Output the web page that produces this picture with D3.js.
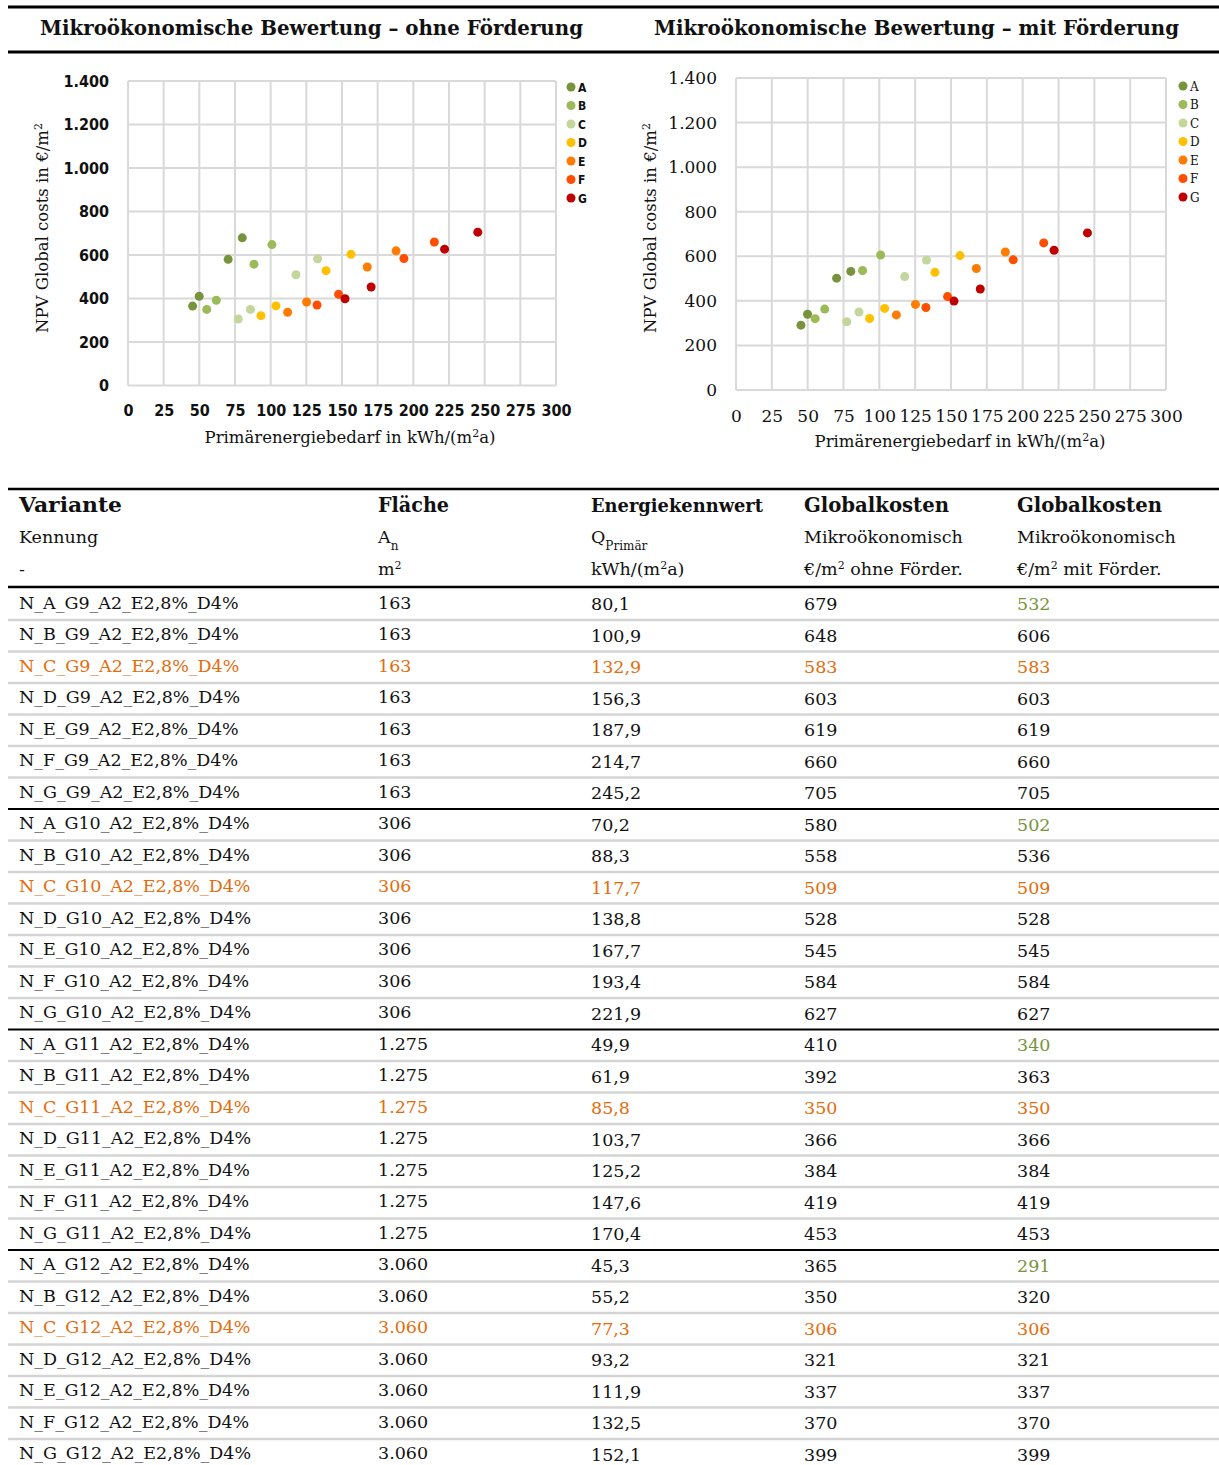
<!DOCTYPE html>
<html>
<head>
	<meta charset="utf-8">
	<title>Mikroökonomische Bewertung</title>
	<script src="https://d3js.org/d3.v7.min.js"></script>
	<style>
		body { margin: 0; background: #fff; }
		text { font-family: "DejaVu Serif", serif; fill: #111; }
	</style>
</head>
<body>
	<div id="page"></div>

	<script type="text/javascript">

		// data
		var variants = ["A", "B", "C", "D", "E", "F", "G"];
		var groups = ["G9", "G10", "G11", "G12"];
		var flaeche = [163, 306, 1275, 3060];
		var energie = [
			[80.1, 100.9, 132.9, 156.3, 187.9, 214.7, 245.2],
			[70.2, 88.3, 117.7, 138.8, 167.7, 193.4, 221.9],
			[49.9, 61.9, 85.8, 103.7, 125.2, 147.6, 170.4],
			[45.3, 55.2, 77.3, 93.2, 111.9, 132.5, 152.1]
		];
		var kostenOhne = [
			[679, 648, 583, 603, 619, 660, 705],
			[580, 558, 509, 528, 545, 584, 627],
			[410, 392, 350, 366, 384, 419, 453],
			[365, 350, 306, 321, 337, 370, 399]
		];
		var kostenMit = [
			[532, 606, 583, 603, 619, 660, 705],
			[502, 536, 509, 528, 545, 584, 627],
			[340, 363, 350, 366, 384, 419, 453],
			[291, 320, 306, 321, 337, 370, 399]
		];
		var seriesColors = ["#77933c", "#9bbb59", "#c3d69b", "#ffc000", "#ff7c00", "#ff4e00", "#c00000"];
		var xTicks = [0, 25, 50, 75, 100, 125, 150, 175, 200, 225, 250, 275, 300];
		var yTicks = [0, 200, 400, 600, 800, 1000, 1200, 1400];

		var de = d3.formatLocale({decimal: ",", thousands: ".", grouping: [3], currency: ["", " €"]});
		var fmtInt = de.format(",d");
		var fmtDec = de.format(",.1f");

		var W = 1219, H = 1465;
		var svg = d3.select("#page").append("svg")
			.attr("width", W)
			.attr("height", H);

//<------------------------------------TITLES------------------------------------------->
		svg.append("line").attr("x1", 8).attr("x2", W).attr("y1", 7).attr("y2", 7)
			.style("stroke", "#000").style("stroke-width", 3);
		svg.append("line").attr("x1", 8).attr("x2", W).attr("y1", 52).attr("y2", 52)
			.style("stroke", "#000").style("stroke-width", 3);

		svg.append("text")
			.attr("x", 40).attr("y", 35)
			.attr("textLength", 543).attr("lengthAdjust", "spacingAndGlyphs")
			.style("font-size", "21px").style("font-weight", "bold")
			.text("Mikroökonomische Bewertung – ohne Förderung");
		svg.append("text")
			.attr("x", 654).attr("y", 35)
			.attr("textLength", 525).attr("lengthAdjust", "spacingAndGlyphs")
			.style("font-size", "21px").style("font-weight", "bold")
			.text("Mikroökonomische Bewertung – mit Förderung");

//<------------------------------------SCATTER CHARTS----------------------------------->
		function drawChart(cfg, yValues) {
			var g = svg.append("g");
			var xScale = d3.scaleLinear().domain([0, 300]).range([cfg.x0, cfg.x1]);
			var yScale = d3.scaleLinear().domain([0, 1400]).range([cfg.y0, cfg.y1]);

			// grid
			g.selectAll(".vgrid").data(xTicks).enter().append("line")
				.attr("x1", function(d) { return xScale(d); })
				.attr("x2", function(d) { return xScale(d); })
				.attr("y1", yScale(0)).attr("y2", yScale(1400))
				.style("stroke", "#d9d9d9").style("stroke-width", 2);
			g.selectAll(".hgrid").data(yTicks).enter().append("line")
				.attr("x1", xScale(0)).attr("x2", xScale(300))
				.attr("y1", function(d) { return yScale(d); })
				.attr("y2", function(d) { return yScale(d); })
				.style("stroke", "#d9d9d9").style("stroke-width", 2);

			// axes, only the labels are kept
			var xAxis = g.append("g")
				.attr("transform", "translate(0," + (yScale(0) + cfg.xLabGap) + ")")
				.call(d3.axisBottom(xScale).tickValues(xTicks).tickSize(0).tickPadding(0));
			var yAxis = g.append("g")
				.attr("transform", "translate(" + (xScale(0) - cfg.yLabGap) + ",0)")
				.call(d3.axisLeft(yScale).tickValues(yTicks).tickSize(0).tickPadding(0).tickFormat(fmtInt));
			[xAxis, yAxis].forEach(function(a) {
				a.select(".domain").remove();
				a.selectAll("text")
					.style("font-family", cfg.tickFont)
					.style("font-size", cfg.tickSize)
					.style("font-weight", cfg.tickWeight)
					.style("fill", "#111");
			});
			xAxis.selectAll("text").attr("dy", "0.35em").attr("y", 0);

			// axis titles
			var xt = g.append("text")
				.attr("x", cfg.xTitleX).attr("y", cfg.xTitleY)
				.attr("text-anchor", "middle")
				.style("font-size", cfg.titleSize);
			xt.append("tspan").text("Primärenergiebedarf  in kWh/(m");
			xt.append("tspan").attr("baseline-shift", "super").style("font-size", "11px").text("2");
			xt.append("tspan").text("a)");

			var yt = g.append("text")
				.attr("transform", "translate(" + cfg.yTitleX + "," + cfg.yTitleY + ") rotate(-90)")
				.attr("text-anchor", "middle")
				.style("font-size", cfg.titleSize);
			yt.append("tspan").text("NPV Global costs in €/m");
			yt.append("tspan").attr("baseline-shift", "super").style("font-size", "11px").text("2");

			// points
			var pts = [];
			variants.forEach(function(v, vi) {
				groups.forEach(function(gr, gi) {
					pts.push({v: vi, x: energie[gi][vi], y: yValues[gi][vi]});
				});
			});
			g.selectAll(".pt").data(pts).enter().append("circle")
				.attr("cx", function(d) { return xScale(d.x); })
				.attr("cy", function(d) { return yScale(d.y); })
				.attr("r", 4.5)
				.style("fill", function(d) { return seriesColors[d.v]; });

			// legend
			var leg = g.selectAll(".leg").data(variants).enter().append("g")
				.attr("transform", function(d, i) { return "translate(" + cfg.legX + "," + (cfg.legY + i * 18.5) + ")"; });
			leg.append("circle").attr("r", 4.5)
				.style("fill", function(d, i) { return seriesColors[i]; });
			leg.append("text").attr("x", 7).attr("dy", "0.38em")
				.style("font-family", cfg.tickFont)
				.style("font-size", "12px")
				.style("font-weight", cfg.tickWeight)
				.text(function(d) { return d; });
		}

		drawChart({
			x0: 128, x1: 556, y0: 385.5, y1: 81,
			xLabGap: 25, yLabGap: 19,
			tickFont: "DejaVu Sans Condensed", tickSize: "16px", tickWeight: "bold",
			titleSize: "16.5px",
			xTitleX: 350, xTitleY: 443, yTitleX: 48, yTitleY: 228,
			legX: 571, legY: 87
		}, kostenOhne);

		drawChart({
			x0: 736, x1: 1166, y0: 390, y1: 78,
			xLabGap: 26, yLabGap: 19,
			tickFont: "DejaVu Serif", tickSize: "17px", tickWeight: "normal",
			titleSize: "16.5px",
			xTitleX: 960, xTitleY: 447, yTitleX: 656, yTitleY: 228,
			legX: 1183, legY: 86
		}, kostenMit);

//<------------------------------------TABLE-------------------------------------------->
		var colX = [19, 378, 591, 804, 1017];
		var rowY0 = 604, rowH = 31.5;
		var orange = "#e46c0a", green = "#77933c";

		svg.append("line").attr("x1", 8).attr("x2", W).attr("y1", 489).attr("y2", 489)
			.style("stroke", "#000").style("stroke-width", 2.5);
		svg.append("line").attr("x1", 8).attr("x2", W).attr("y1", 587).attr("y2", 587)
			.style("stroke", "#000").style("stroke-width", 2.5);

		// header
		var headBold = ["Variante", "Fläche", "Energiekennwert", "Globalkosten", "Globalkosten"];
		var headSize = ["21px", "20px", "18px", "21px", "21px"];
		headBold.forEach(function(t, i) {
			svg.append("text").attr("x", colX[i]).attr("y", 512)
				.style("font-size", headSize[i]).style("font-weight", "bold")
				.attr("textLength", [103, 71, 172, 145, 145][i]).attr("lengthAdjust", "spacingAndGlyphs")
				.text(t);
		});
		function headText(x, y, parts) {
			var t = svg.append("text").attr("x", x).attr("y", y).style("font-size", "17.5px");
			parts.forEach(function(p) {
				var s = t.append("tspan").text(p[0]);
				if (p[1] == "sup") s.attr("baseline-shift", "super").style("font-size", "11px");
				if (p[1] == "sub") s.attr("baseline-shift", "sub").style("font-size", "12px");
			});
			return t;
		}
		headText(colX[0], 543, [["Kennung"]]);
		headText(colX[1], 543, [["A"], ["n", "sub"]]);
		headText(colX[2], 543, [["Q"], ["Primär", "sub"]]);
		headText(colX[3], 543, [["Mikroökonomisch"]]);
		headText(colX[4], 543, [["Mikroökonomisch"]]);
		headText(colX[0], 575, [["-"]]);
		headText(colX[1], 575, [["m"], ["2", "sup"]]);
		headText(colX[2], 575, [["kWh/(m"], ["2", "sup"], ["a)"]]);
		headText(colX[3], 575, [["€/m"], ["2", "sup"], [" ohne Förder."]]);
		headText(colX[4], 575, [["€/m"], ["2", "sup"], [" mit Förder."]]);

		// body rows
		var rows = [];
		groups.forEach(function(gr, gi) {
			variants.forEach(function(v, vi) {
				rows.push({
					gi: gi, vi: vi,
					cells: [
						"N_" + v + "_" + gr + "_A2_E2,8%_D4%",
						fmtInt(flaeche[gi]),
						fmtDec(energie[gi][vi]),
						fmtInt(kostenOhne[gi][vi]),
						fmtInt(kostenMit[gi][vi])
					]
				});
			});
		});

		rows.forEach(function(r, i) {
			var cy = rowY0 + i * rowH;
			// separator below the row
			if (i < rows.length - 1) {
				var thick = r.vi == 6;
				svg.append("line").attr("x1", 8).attr("x2", W)
					.attr("y1", cy + 16).attr("y2", cy + 16)
					.style("stroke", thick ? "#000" : "#d4d4d4")
					.style("stroke-width", thick ? 2 : 2.5);
			}
			r.cells.forEach(function(c, ci) {
				var col = "#111";
				if (r.vi == 2) col = orange;
				else if (r.vi == 0 && ci == 4) col = green;
				svg.append("text")
					.attr("x", colX[ci])
					.attr("y", cy + (ci < 2 ? 4.5 : 6))
					.style("font-size", "17.5px")
					.style("fill", col)
					.text(c);
			});
		});

	</script>
</body>
</html>
